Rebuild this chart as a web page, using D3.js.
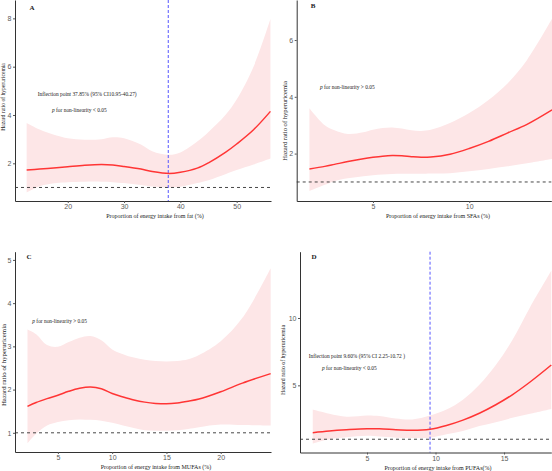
<!doctype html>
<html lang="en">
<head>
<meta charset="utf-8">
<script src="https://d3js.org/d3.v7.min.js"></script>
<style>
  body { margin: 0; background: #fff; }
  svg { display: block; }
  .tick text { font-family: "Liberation Sans", Arial, sans-serif; font-size: 7px; fill: #5a5a5a; }
  .tick line { stroke: #555; }
  .domain { stroke: #333; stroke-width: 1; }
  .serif { font-family: "Liberation Serif", "Times New Roman", serif; fill: #222; }
</style>
</head>
<body>
<svg id="chart" width="552" height="471"></svg>
<script>
// panel A : total fat
var fatX     = [12.7, 15, 18, 20, 23, 26, 28, 30, 33, 35, 38, 40, 43, 45, 48, 50, 53, 56];
var fatHR    = [1.72, 1.76, 1.82, 1.86, 1.92, 1.95, 1.93, 1.87, 1.76, 1.66, 1.58, 1.63, 1.8, 2.02, 2.45, 2.8, 3.39, 4.15];
var fatUpper = [3.67, 3.4, 3.15, 3.04, 2.98, 3.0, 3.08, 3.04, 2.78, 2.5, 2.35, 2.45, 2.9, 3.3, 4.0, 4.64, 6.0, 7.97];
var fatLower = [0.79, 1.05, 1.18, 1.22, 1.24, 1.24, 1.22, 1.18, 1.1, 1.04, 1.0, 1.03, 1.18, 1.3, 1.55, 1.72, 1.95, 2.2];

// panel B : SFAs
var sfaX     = [1.7, 2.5, 3, 3.7, 4.5, 5, 5.5, 6, 6.5, 7, 7.5, 8, 9, 10, 11, 12, 13, 14.3];
var sfaHR    = [1.46, 1.55, 1.62, 1.72, 1.82, 1.87, 1.91, 1.93, 1.92, 1.89, 1.87, 1.88, 1.98, 2.18, 2.43, 2.73, 3.03, 3.54];
var sfaUpper = [3.6, 3.0, 2.82, 2.69, 2.75, 2.84, 2.9, 2.92, 2.88, 2.82, 2.8, 2.84, 3.08, 3.43, 3.89, 4.48, 5.3, 6.75];
var sfaLower = [0.68, 0.9, 1.03, 1.13, 1.2, 1.24, 1.26, 1.28, 1.29, 1.29, 1.29, 1.3, 1.31, 1.38, 1.46, 1.55, 1.66, 1.81];

// panel C : MUFAs
var mufaX     = [2.2, 3, 4, 5, 6, 7, 8, 9, 10, 11, 12, 13, 14, 15, 16, 17, 18, 20, 22, 24.6];
var mufaHR    = [1.61, 1.7, 1.79, 1.87, 1.96, 2.03, 2.06, 2.02, 1.91, 1.83, 1.76, 1.71, 1.68, 1.67, 1.69, 1.73, 1.78, 1.95, 2.15, 2.37];
var mufaUpper = [3.39, 3.28, 3.03, 2.99, 3.1, 3.2, 3.24, 3.14, 2.93, 2.82, 2.74, 2.69, 2.66, 2.65, 2.66, 2.7, 2.8, 3.12, 3.66, 4.81];
var mufaLower = [0.76, 0.98, 1.17, 1.25, 1.29, 1.31, 1.3, 1.28, 1.23, 1.17, 1.11, 1.06, 1.05, 1.05, 1.06, 1.09, 1.13, 1.19, 1.18, 1.17];

// panel D : PUFAs
var pufaX     = [1.04, 2.25, 3.5, 5, 5.9, 7.1, 8.3, 9.6, 10.8, 12, 13.2, 14.4, 15.6, 16.9, 18.45];
var pufaHR    = [1.49, 1.61, 1.7, 1.78, 1.77, 1.71, 1.66, 1.74, 2.02, 2.42, 2.93, 3.56, 4.3, 5.25, 6.51];
var pufaUpper = [3.2, 2.89, 2.67, 2.76, 2.72, 2.54, 2.47, 2.76, 3.2, 3.94, 5.04, 6.51, 8.35, 10.8, 13.5];
var pufaLower = [0.68, 1.0, 1.15, 1.25, 1.2, 1.12, 1.1, 1.12, 1.37, 1.61, 1.98, 2.27, 2.59, 2.89, 3.25];

var xTicksA = [20, 30, 40, 50], yTicksA = [2, 4, 6, 8];
var xTicksB = [5, 10],          yTicksB = [2, 4, 6];
var xTicksC = [5, 10, 15, 20],  yTicksC = [1, 2, 3, 4, 5];
var xTicksD = [5, 10, 15],      yTicksD = [5, 10];

var panels = [
  { id: "A", x: fatX, hr: fatHR, up: fatUpper, lo: fatLower, xt: xTicksA, yt: yTicksA,
    xd: [10.63, 56.1], yd: [0.44, 8.76], l: 15, r: 271, t: 0, b: 201, inflect: 37.85,
    xTitle: "Proportion of energy intake from fat (%)", xTitlePos: [155, 218],
    yTitlePos: [3.3, 97], yTitleSize: 5.6,
    letterPos: [32, 10],
    notes: [["Inflection point 37.85% (95% CI10.95-40.27)", 37.7, 96],
            ["for non-linearity < 0.05", 52, 112, true]] },
  { id: "B", x: sfaX, hr: sfaHR, up: sfaUpper, lo: sfaLower, xt: xTicksB, yt: yTicksB,
    xd: [1.04, 14.26], yd: [0.33, 7.41], l: 296.7, r: 551.3, t: 0, b: 201, inflect: null,
    xTitle: "Proportion of energy intake from SFAs (%)", xTitlePos: [438, 218],
    yTitlePos: [284.3, 121], yTitleSize: 6.6,
    letterPos: [313, 8],
    notes: [["for non-linearity > 0.05", 320, 89, true]] },
  { id: "C", x: mufaX, hr: mufaHR, up: mufaUpper, lo: mufaLower, xt: xTicksC, yt: yTicksC,
    xd: [1.05, 24.63], yd: [0.556, 5.19], l: 15, r: 271, t: 251.7, b: 452, inflect: null,
    xTitle: "Proportion of energy intake from MUFAs (%)", xTitlePos: [156, 468.5],
    yTitlePos: [3.3, 365], yTitleSize: 6.8,
    letterPos: [29, 259],
    notes: [["for non-linearity > 0.05", 32.3, 323, true]] },
  { id: "D", x: pufaX, hr: pufaHR, up: pufaUpper, lo: pufaLower, xt: xTicksD, yt: yTicksD,
    xd: [0.11, 18.45], yd: [0.016, 14.92], l: 300, r: 551.3, t: 251.7, b: 452.5, inflect: 9.6,
    xTitle: "Proportion of energy intake from PUFAs(%)", xTitlePos: [438, 469.5],
    yTitlePos: [283.3, 360], yTitleSize: 5.8,
    letterPos: [314, 259],
    notes: [["Inflection point 9.60% (95% CI 2.25-10.72 )", 308.7, 358],
            ["for non-linearity < 0.05", 322, 369.5, true]] }
];

var svg = d3.select("#chart");

panels.forEach(function(p) {
  var x = d3.scaleLinear().domain(p.xd).range([p.l, p.r]);
  var y = d3.scaleLinear().domain(p.yd).range([p.b, p.t]);
  var g = svg.append("g").attr("id", "panel" + p.id);
  var rows = p.x.map(function(v, i) { return { x: v, hr: p.hr[i], up: p.up[i], lo: p.lo[i] }; });

  g.append("path").datum(rows)
    .attr("fill", "#fde6e7")
    .attr("d", d3.area().curve(d3.curveCatmullRom)
      .x(function(d) { return x(d.x); })
      .y0(function(d) { return y(d.lo); })
      .y1(function(d) { return y(d.up); }));

  g.append("line")
    .attr("x1", p.l).attr("x2", p.r).attr("y1", y(1)).attr("y2", y(1))
    .attr("stroke", "#333").attr("stroke-width", 0.9).attr("stroke-dasharray", "3,3");

  if (p.inflect != null) {
    g.append("line")
      .attr("x1", x(p.inflect)).attr("x2", x(p.inflect)).attr("y1", p.t).attr("y2", p.b)
      .attr("stroke", "#5555ff").attr("stroke-width", 1).attr("stroke-dasharray", "3,2");
  }

  g.append("path").datum(rows)
    .attr("fill", "none").attr("stroke", "#ff3535").attr("stroke-width", 1.5)
    .attr("d", d3.line().curve(d3.curveCatmullRom)
      .x(function(d) { return x(d.x); })
      .y(function(d) { return y(d.hr); }));

  g.append("g").attr("transform", "translate(0," + p.b + ")")
    .call(d3.axisBottom(x).tickValues(p.xt).tickFormat(d3.format("d"))
      .tickSize(2).tickPadding(1.5).tickSizeOuter(0));
  g.append("g").attr("transform", "translate(" + p.l + ",0)")
    .call(d3.axisLeft(y).tickValues(p.yt).tickFormat(d3.format("d"))
      .tickSize(2).tickPadding(1.5).tickSizeOuter(0));

  g.append("text").attr("class", "serif")
    .attr("x", p.letterPos[0]).attr("y", p.letterPos[1])
    .attr("text-anchor", "middle").attr("font-weight", "bold").attr("font-size", 7)
    .text(p.id);

  g.append("text").attr("class", "serif")
    .attr("x", p.xTitlePos[0]).attr("y", p.xTitlePos[1])
    .attr("text-anchor", "middle").attr("font-size", 6)
    .text(p.xTitle);

  g.append("text").attr("class", "serif")
    .attr("transform", "translate(" + p.yTitlePos[0] + "," + p.yTitlePos[1] + ") rotate(-90)")
    .attr("text-anchor", "middle").attr("dy", "0.35em").attr("font-size", p.yTitleSize)
    .text("Hazard ratio of hyperuricemia");

  p.notes.forEach(function(n) {
    var t = g.append("text").attr("class", "serif")
      .attr("x", n[1]).attr("y", n[2]).attr("font-size", 5.4);
    if (n[3]) {
      t.append("tspan").attr("font-style", "italic").text("p");
      t.append("tspan").text(" " + n[0]);
    } else {
      t.text(n[0]);
    }
  });
});
</script>
</body>
</html>
